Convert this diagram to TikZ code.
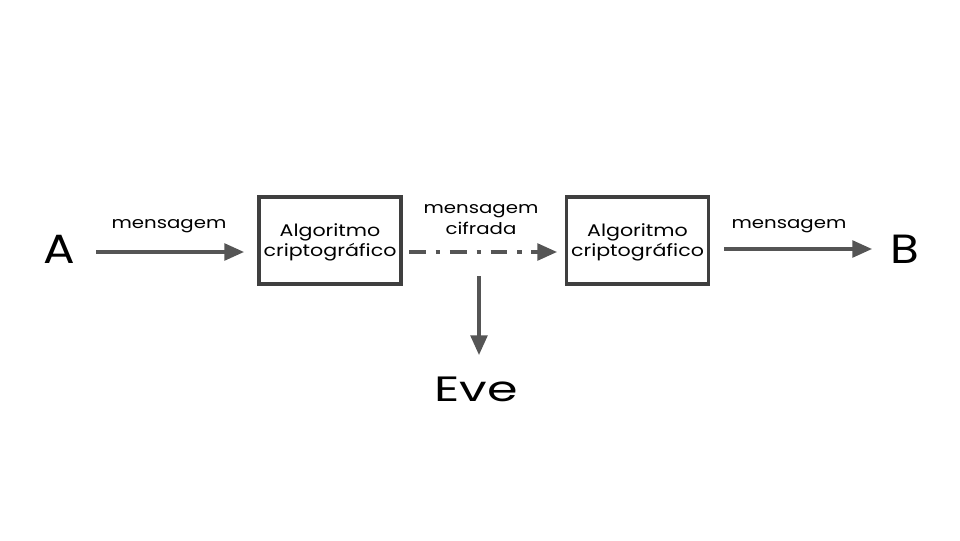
\documentclass[tikz,border=0pt]{standalone}
\usepackage{fontspec}
\setmainfont{Poppins}
\newfontfamily\widefont[FakeStretch=1.22]{Poppins}
\newfontfamily\partyfont[FakeStretch=1.15]{Poppins}
\newfontfamily\evefont[FakeStretch=1.4]{Poppins}
\usetikzlibrary{arrows.meta}
\definecolor{arr}{HTML}{555555}
\definecolor{boxc}{HTML}{3F3F3F}
\tikzset{
  flow/.style={draw=arr, line width=2.2pt, -{Triangle[length=14pt,width=12pt]}},
  algbox/.style={draw=boxc, line width=2.3pt, minimum width=142*0.025cm, minimum height=87*0.025cm, inner sep=0pt},
  boxtext/.style={align=center, inner sep=0pt, yshift=-0.05cm, font=\widefont\fontsize{12}{14.5}\selectfont},
  lbl/.style={font=\widefont\fontsize{11.5}{14.5}\selectfont, align=center, inner sep=0pt},
  party/.style={font=\partyfont\fontsize{29}{30}\selectfont, inner sep=0pt}
}
\begin{document}
\begin{tikzpicture}[x=0.025cm, y=-0.025cm]
\useasboundingbox (0,0) rectangle (960,540);
\node[party] (A) at (59,249) {A};
\node[party] (B) at (905,249) {B};
\node[party, font=\evefont\fontsize{25}{28}\selectfont] (E) at (476,389) {Eve};
\node[algbox, label={[boxtext]center:Algoritmo\\criptográfico}] (alg1) at (330,240.5) {};
\node[algbox, label={[boxtext]center:Algoritmo\\criptográfico}] (alg2) at (637.5,240.5) {};
\coordinate (a1s) at (96,252);
\coordinate (a1e) at (244,252);
\coordinate (dS) at (409,252);
\coordinate (dE) at (557,252);
\coordinate (a3s) at (724,249);
\coordinate (a3e) at (872,249);
\coordinate (vS) at (479,276);
\coordinate (vE) at (479,355);
\draw[flow] (a1s) -- (a1e);
\draw[flow, dash pattern=on 12pt off 7pt on 3pt off 7pt] (dS) -- (dE);
\draw[flow] (a3s) -- (a3e);
\draw[flow] (vS) -- (vE);
\node[lbl] (l1) at (169,226) {mensagem};
\node[lbl] (l2) at (481,219.5) {mensagem\\cifrada};
\node[lbl] (l3) at (789,226) {mensagem};
\end{tikzpicture}
\end{document}
